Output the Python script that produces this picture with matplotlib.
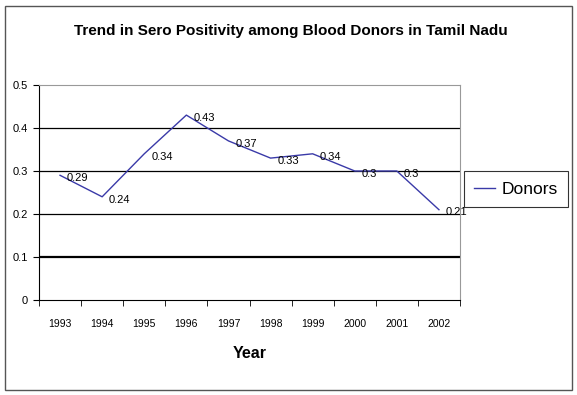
import numpy as np
import matplotlib.pyplot as plt
from matplotlib.patches import Rectangle
from matplotlib.lines import Line2D

years = ['1993', '1994', '1995', '1996', '1997', '1998', '1999', '2000', '2001', '2002']
donors = [0.29, 0.24, 0.34, 0.43, 0.37, 0.33, 0.34, 0.30, 0.30, 0.21]
donor_labels = ['0.29', '0.24', '0.34', '0.43', '0.37', '0.33', '0.34', '0.3', '0.3', '0.21']

plt.rcParams['font.family'] = ['Liberation Sans', 'DejaVu Sans']

fig = plt.figure(figsize=(5.77, 3.95), dpi=100)
# outer chart border
fig.patches.append(Rectangle((5/577, 5/395), 567/577, 384/395, transform=fig.transFigure,
                             fill=False, edgecolor='#555555', linewidth=1.0))

ax = fig.add_axes([39/577, (395-300)/395, 421/577, 215/395])
x = np.arange(len(years))
ax.plot(x, donors, color='#3a3aa8', linewidth=1.0)
for xi, v, lab in zip(x, donors, donor_labels):
    ax.annotate(lab, (xi, v), xytext=(5, -2), textcoords='offset points',
                ha='left', va='center', fontsize=8, color='black')

ax.set_xlim(-0.5, len(years) - 0.5)
ax.set_ylim(0, 0.5)
ax.set_yticks([0, 0.1, 0.2, 0.3, 0.4, 0.5])
ax.set_yticklabels(['0', '0.1', '0.2', '0.3', '0.4', '0.5'], fontsize=8)
for yv in [0.1, 0.2, 0.3, 0.4]:
    ax.axhline(yv, color='black', linewidth=1.6 if yv == 0.1 else 0.9, zorder=0)
ax.set_xticks(x)
ax.set_xticklabels(years, fontsize=7.5)
ax.set_xticks(np.arange(-0.5, len(years)), minor=True)
ax.tick_params(axis='x', which='major', length=0, pad=14)
ax.tick_params(axis='x', which='minor', length=4, direction='out')
ax.tick_params(axis='y', length=4, direction='out', pad=4)
ax.spines['left'].set_color('black')
ax.spines['bottom'].set_color('black')
ax.spines['top'].set_color('#999999')
ax.spines['right'].set_color('#999999')
ax.set_xlabel('Year', fontsize=11.5, fontweight='bold', labelpad=12)

fig.text(291/577, 1 - 31/395, 'Trend in Sero Positivity among Blood Donors in Tamil Nadu',
         ha='center', va='center', fontsize=11, fontweight='bold')

leg = ax.legend([Line2D([], [], color='#3a3aa8', linewidth=1.0)], ['Donors'],
                loc='center left', bbox_to_anchor=(464/577, 1 - 189/395),
                bbox_transform=fig.transFigure, fontsize=12.5, frameon=True,
                fancybox=False, handlelength=1.2, borderpad=0.6, handletextpad=0.35,
                borderaxespad=0)
leg.get_frame().set_edgecolor('black')
leg.get_frame().set_linewidth(0.8)

plt.savefig('out.png', dpi=100)
